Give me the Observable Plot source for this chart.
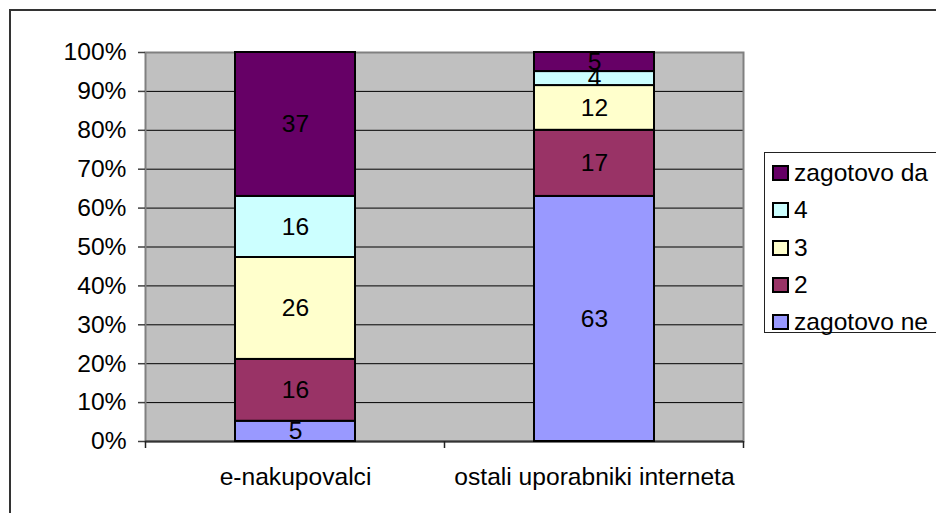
<!DOCTYPE html>
<html>
<head>
<meta charset="utf-8">
<script src="https://cdn.jsdelivr.net/npm/d3@7"></script>
<script src="https://cdn.jsdelivr.net/npm/@observablehq/plot@0.6"></script>
<style>
  html, body { margin: 0; padding: 0; background: #fff; }
  #wrap { position: relative; width: 936px; height: 513px; overflow: hidden; font-family: "Liberation Sans", Arial, sans-serif; }
  #outer { position: absolute; left: 9px; top: 9px; width: 1200px; height: 800px; border-left: 2px solid #333; border-top: 2px solid #333; }
  #chart { position: absolute; left: 0; top: 0; }
  #legend { position: absolute; left: 764px; top: 152px; width: 300px; height: 179px; border: 1px solid #222; background: #fff; }
  .item { position: absolute; left: 0; height: 30px; display: flex; align-items: center; font-size: 24.6px; color: #000; white-space: nowrap; }
  .sw { width: 13px; height: 12px; border: 2px solid #000; margin-left: 7px; margin-right: 5px; }
</style>
</head>
<body>
<div id="wrap">
  <div id="outer"></div>
  <div id="chart"></div>
  <div id="legend"></div>
</div>
<script>
// ---- data ----
const groups = ["e-nakupovalci", "ostali uporabniki interneta"];
const series = ["zagotovo ne", "2", "3", "4", "zagotovo da"];
const eNakupovalciValues = [5.2, 15.9, 26.2, 15.7, 37.0];
const ostaliValues = [63.0, 17.0, 11.5, 3.6, 4.9];
const eNakupovalciLabels = [5, 16, 26, 16, 37];
const ostaliLabels = [63, 17, 12, 4, 5];
const seriesColors = ["#9999FF", "#993366", "#FFFFCC", "#CCFFFF", "#660066"];
const yTicks = [0, 10, 20, 30, 40, 50, 60, 70, 80, 90, 100];
const legendOrder = ["zagotovo da", "4", "3", "2", "zagotovo ne"];

const rows = [];
series.forEach((s, i) => rows.push({group: groups[0], series: s, value: eNakupovalciValues[i], label: eNakupovalciLabels[i]}));
series.forEach((s, i) => rows.push({group: groups[1], series: s, value: ostaliValues[i], label: ostaliLabels[i]}));

const FS = 24.6;

const plot = Plot.plot({
  width: 936,
  height: 513,
  marginLeft: 145,
  marginRight: 193,
  marginTop: 52,
  marginBottom: 72,
  style: {fontFamily: '"Liberation Sans", Arial, sans-serif', fontSize: FS + "px", background: "transparent", overflow: "visible", color: "#000"},
  x: {domain: groups, paddingInner: 0.6, paddingOuter: 0.3, label: null},
  y: {domain: [0, 100], label: null},
  color: {domain: series, range: seriesColors},
  marks: [
    Plot.frame({fill: "#C0C0C0"}),
    Plot.ruleY(yTicks, {stroke: "#000", strokeWidth: 1}),
    Plot.frame({stroke: "#808080", strokeWidth: 2}),
    Plot.ruleY([0], {stroke: "#333", strokeWidth: 2}),
    Plot.barY(rows, {x: "group", y: "value", fill: "series", stroke: "#000", strokeWidth: 2, insetLeft: 0, insetRight: 0}),
    Plot.text(rows, Plot.stackY({x: "group", y: "value", text: "label", fill: "#000", fontSize: FS})),
    Plot.axisY({ticks: yTicks, tickFormat: d => d + "%", tickSize: 7, tickPadding: 12, fontSize: FS, stroke: "#404040", strokeWidth: 1.5, label: null}),
    Plot.axisX({tickSize: 0, tickPadding: 26, fontSize: FS, label: null})
  ]
});
document.getElementById("chart").appendChild(plot);

// band boundary ticks on the category axis, positioned from Plot's x scale
const sx = plot.scale("x");
const step = sx.step, bw = sx.bandwidth;
const bounds = groups.map(g => sx.apply(g) - (step - bw) / 2);
bounds.push(bounds[bounds.length - 1] + step);
const yS = plot.scale("y");
const y0 = yS.apply(0);
d3.select(plot).append("g").selectAll("line").data(bounds).join("line")
  .attr("x1", d => d).attr("x2", d => d)
  .attr("y1", y0).attr("y2", y0 + 7)
  .attr("stroke", "#222").attr("stroke-width", 1.5);

// legend
const cs = plot.scale("color");
const legend = d3.select("#legend");
legendOrder.forEach((s, i) => {
  const it = legend.append("div").attr("class", "item").style("top", (5 + i * 37.3) + "px");
  it.append("div").attr("class", "sw").style("background", cs.apply(s));
  it.append("span").text(s);
});
</script>
</body>
</html>
